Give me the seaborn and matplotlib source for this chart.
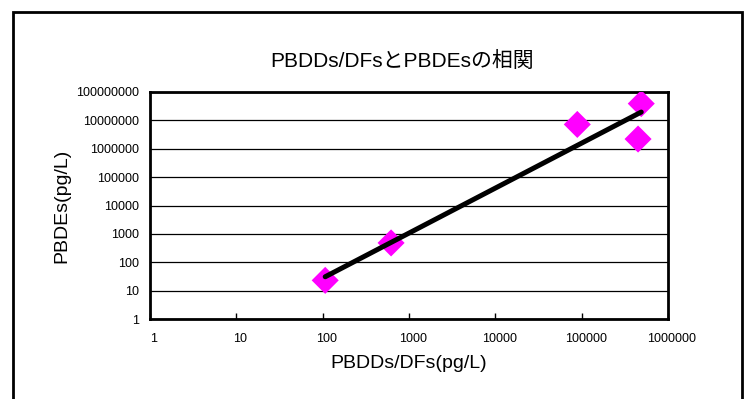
import numpy as np
import pandas as pd
import matplotlib
matplotlib.use("Agg")
import matplotlib.pyplot as plt
from matplotlib.patches import Rectangle
from matplotlib.transforms import ScaledTranslation
import seaborn as sns

# data
pbdd_df = [107, 620, 89000, 490000, 450000]          # PBDDs/DFs (pg/L)
pbde = [23, 480, 7.2e6, 3.9e7, 2.2e6]                 # PBDEs (pg/L)
x_ticks = [1, 10, 100, 1000, 10000, 100000, 1000000]
x_labels = ["1", "10", "100", "1000", "10000", "100000", "1000000"]
y_ticks = [1, 10, 100, 1000, 10000, 100000, 1000000, 10000000, 100000000]
y_labels = ["1", "10", "100", "1000", "10000", "100000", "1000000", "10000000", "100000000"]

title = "PBDDs/DFsとPBDEsの相関"
xlabel = "PBDDs/DFs(pg/L)"
ylabel = "PBDEs(pg/L)"

sns.set_theme(style="white")
plt.rcParams["font.family"] = ["Liberation Sans", "Noto Sans CJK JP", "DejaVu Sans"]
plt.rcParams["text.color"] = "black"
plt.rcParams["axes.labelcolor"] = "black"
plt.rcParams["xtick.color"] = "black"
plt.rcParams["ytick.color"] = "black"

df = pd.DataFrame({"x": pbdd_df, "y": pbde})

fig = plt.figure(figsize=(7.46, 3.99), dpi=100)
ax = fig.add_axes([150 / 746, 1 - 319 / 399, (668 - 150) / 746, (319 - 92) / 399])
ax.set_xscale("log")
ax.set_yscale("log")

sns.scatterplot(data=df, x="x", y="y", ax=ax, marker="D", s=190,
                color="#FF00FF", edgecolor="none", zorder=3, legend=False)

# power trend line (least squares in log-log space)
lx, ly = np.log10(df["x"]), np.log10(df["y"])
b, a = np.polyfit(lx, ly, 1)
xs = np.array([df["x"].min(), df["x"].max()])
ys = 10 ** (a + b * np.log10(xs))
ax.plot(xs, ys, color="black", lw=3.6, solid_capstyle="round", zorder=4)

ax.set_xlim(1, 1e6)
ax.set_ylim(1, 1e8)
ax.set_xticks(x_ticks)
ax.set_xticklabels(x_labels, fontsize=9)
ax.set_yticks(y_ticks)
ax.set_yticklabels(y_labels, fontsize=9)
ax.minorticks_off()
ax.tick_params(axis="x", direction="in", length=4, width=1, color="black", pad=10, bottom=True)
ax.tick_params(axis="y", length=0, pad=8)
off = ScaledTranslation(4 / 100, 0, fig.dpi_scale_trans)
for lab in ax.get_xticklabels():
    lab.set_transform(lab.get_transform() + off)
ax.yaxis.grid(True, color="black", lw=0.9)
ax.xaxis.grid(False)
for sp in ax.spines.values():
    sp.set_color("black")
    sp.set_linewidth(2)

ax.set_xlabel(xlabel, fontsize=14, labelpad=7)
ax.set_ylabel(ylabel, fontsize=14, labelpad=4)
fig.text(402 / 746, 1 - 61 / 399, title, fontsize=15, ha="center", va="center")

fig.patches.append(Rectangle((13 / 746, -0.05), (742 - 13) / 746, 1 - 12 / 399 + 0.05,
                             transform=fig.transFigure, fill=False, edgecolor="black",
                             lw=2, zorder=0))

fig.savefig("out.png", dpi=100)
